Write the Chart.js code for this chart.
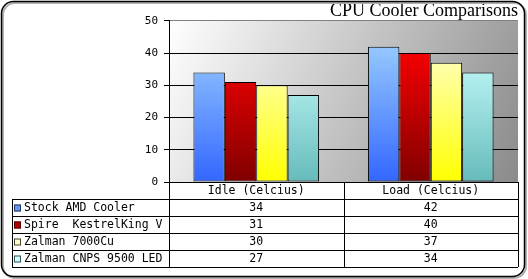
<!DOCTYPE html>
<html>
<head>
<meta charset="utf-8">
<script src="https://cdn.jsdelivr.net/npm/chart.js@4"></script>
<style>
  html, body { margin: 0; padding: 0; background: #fff; }
  #wrap { width: 528px; height: 279px; position: relative; }
</style>
</head>
<body>
<div id="wrap"><canvas id="c"></canvas></div>
<script>
// CPU cooler temps
const categories = ['Idle (Celcius)', 'Load (Celcius)'];
const coolers = ['Stock AMD Cooler', 'Spire  KestrelKing V', 'Zalman 7000Cu', 'Zalman CNPS 9500 LED'];
const stockAmd = [34, 42];
const spireKestrel = [31, 40];
const zalman7000 = [30, 37];
const zalman9500 = [27, 34];
const yTicks = [0, 10, 20, 30, 40, 50];

// top / bottom gradient colours + table swatch
const barColors = [
  { top: '#99ccff', bottom: '#3366ff', swatch: '#6699ee', edge: '#223366' },
  { top: '#ff0000', bottom: '#800000', swatch: '#b00000', edge: '#550000' },
  { top: '#ffffcc', bottom: '#ffff00', swatch: '#ffffcc', edge: '#444433' },
  { top: '#ccffff', bottom: '#66bbbb', swatch: '#ccffff', edge: '#335555' },
];

const FONT = 'DejaVu Sans Mono';
const ROW_H = 17;
const TABLE_LEFT = 12;

function barGradient(i) {
  return ctx => {
    const area = ctx.chart.chartArea;
    if (!area) return barColors[i].top;
    const g = ctx.chart.ctx.createLinearGradient(0, area.top + 20, 0, area.bottom);
    g.addColorStop(0, barColors[i].top);
    g.addColorStop(1, barColors[i].bottom);
    return g;
  };
}

const frame = {
  id: 'frame',
  beforeDraw(chart) {
    const { ctx, chartArea: a } = chart;
    ctx.save();
    ctx.fillStyle = '#fff';
    ctx.fillRect(0, 0, chart.width, chart.height);
    const g = ctx.createLinearGradient(a.left, a.top, a.right, a.bottom);
    g.addColorStop(0, '#ffffff');
    g.addColorStop(1, '#8a8a8a');
    ctx.fillStyle = g;
    ctx.fillRect(a.left, a.top, a.right - a.left, a.bottom - a.top);
    ctx.restore();
  },
  afterDraw(chart) {
    const ctx = chart.ctx;
    ctx.save();
    ctx.lineWidth = 2;
    ctx.strokeStyle = '#b0b0b0';
    ctx.beginPath();
    ctx.roundRect(3, 3, chart.width - 5, chart.height - 4, 12);
    ctx.stroke();
    ctx.lineWidth = 1.5;
    ctx.strokeStyle = '#000';
    ctx.beginPath();
    ctx.roundRect(1.5, 1.5, chart.width - 5, chart.height - 4, 12);
    ctx.stroke();
    ctx.restore();
  },
};

// data table under the plot, columns follow the x scale
const dataTable = {
  id: 'dataTable',
  afterDraw(chart) {
    const { ctx, chartArea: a } = chart;
    const x = chart.scales.x;
    const colW = (x.right - x.left) / categories.length;
    const top = a.bottom;
    const nRows = chart.data.datasets.length;
    const bottom = top + ROW_H * (nRows + 1);
    ctx.save();
    ctx.strokeStyle = '#000';
    ctx.lineWidth = 1;
    ctx.beginPath();
    for (let c = 0; c <= categories.length; c++) {
      const px = Math.round(x.left + c * colW) + 0.5;
      ctx.moveTo(px, top);
      ctx.lineTo(px, bottom);
    }
    ctx.moveTo(TABLE_LEFT + 0.5, top + ROW_H);
    ctx.lineTo(TABLE_LEFT + 0.5, bottom);
    for (let r = 1; r <= nRows + 1; r++) {
      const py = Math.round(top + r * ROW_H) + 0.5;
      ctx.moveTo(TABLE_LEFT, py);
      ctx.lineTo(x.right, py);
    }
    ctx.stroke();

    ctx.fillStyle = '#000';
    ctx.font = '11.5px "' + FONT + '"';
    ctx.textBaseline = 'middle';
    ctx.textAlign = 'center';
    categories.forEach((lab, c) => {
      ctx.fillText(lab, x.getPixelForValue(c), top + ROW_H / 2 + 1);
    });
    chart.data.datasets.forEach((ds, r) => {
      const cy = top + ROW_H * (r + 1) + ROW_H / 2 + 1;
      ctx.fillStyle = barColors[r].swatch;
      ctx.fillRect(14, cy - 4, 7, 7);
      ctx.strokeStyle = barColors[r].edge;
      ctx.strokeRect(14.5, cy - 3.5, 6, 6);
      ctx.fillStyle = '#000';
      ctx.textAlign = 'left';
      ctx.fillText(ds.label, 24, cy);
      ctx.textAlign = 'center';
      ds.data.forEach((v, c) => ctx.fillText(String(v), x.getPixelForValue(c), cy));
    });
    ctx.restore();
  },
};

const series = [stockAmd, spireKestrel, zalman7000, zalman9500];

new Chart(document.getElementById('c'), {
  type: 'bar',
  data: {
    labels: categories,
    datasets: series.map((d, i) => ({
      label: coolers[i],
      data: d,
      backgroundColor: barGradient(i),
      borderColor: '#000',
      borderWidth: 1,
      borderSkipped: false,
      categoryPercentage: 0.72,
      barPercentage: 1,
    })),
  },
  options: {
    responsive: true,
    maintainAspectRatio: false,
    animation: false,
    layout: { padding: { left: 0, right: 10, top: 0, bottom: 0 } },
    plugins: {
      legend: { display: false },
      tooltip: { enabled: false },
      title: {
        display: true,
        text: 'CPU Cooler Comparisons',
        align: 'end',
        color: '#000',
        font: { family: 'Liberation Serif', size: 18, weight: 'normal', lineHeight: 1.05 },
        padding: { top: 2, bottom: 0 },
      },
    },
    scales: {
      x: {
        ticks: { display: false },
        grid: { display: false },
        border: { display: false },
        afterFit: s => { s.height = 279 - 182; },
      },
      y: {
        min: 0,
        max: 50,
        afterBuildTicks: s => { s.ticks = yTicks.map(v => ({ value: v })); },
        ticks: { color: '#000', padding: 6, font: { family: FONT, size: 11 } },
        grid: {
          color: c => (c.tick && c.tick.value === 50 ? '#808080' : '#000'),
          tickLength: 5,
          tickColor: '#000',
        },
        border: { display: true, color: '#000' },
        afterFit: s => { s.width = 169; },
      },
    },
  },
  plugins: [frame, dataTable],
});
</script>
</body>
</html>
